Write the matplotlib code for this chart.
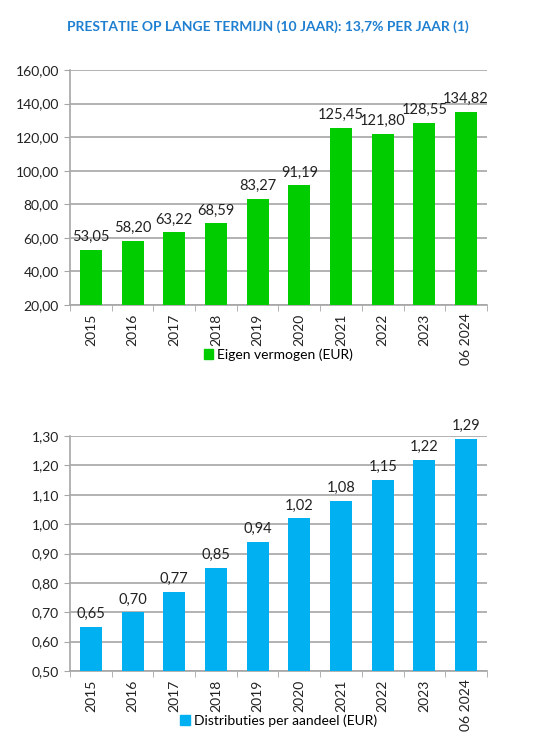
import numpy as np
import matplotlib.pyplot as plt
from matplotlib.patches import Patch

plt.rcParams['font.family'] = ['Lato', 'DejaVu Sans']

years = ['2015', '2016', '2017', '2018', '2019', '2020', '2021', '2022', '2023', '06 2024']
equity = [53.05, 58.20, 63.22, 68.59, 83.27, 91.19, 125.45, 121.80, 128.55, 134.82]
distrib = [0.65, 0.70, 0.77, 0.85, 0.94, 1.02, 1.08, 1.15, 1.22, 1.29]

green = '#00cc00'
blue = '#00b0f0'
grid_col = '#a6a6a6'


def fmt(v, d=2):
    return f'{v:.{d}f}'.replace('.', ',')


def draw(ax, vals, color, ymin, ymax, step, label, offset):
    x = np.arange(len(vals))
    ax.bar(x, [v - ymin for v in vals], bottom=ymin, width=0.53, color=color, zorder=3)
    for xi, v in zip(x, vals):
        ax.text(xi, v + offset, fmt(v), ha='center', va='bottom', fontsize=10.5, color='#222222')
    ax.set_xlim(-0.5, len(vals) - 0.5)
    ax.set_ylim(ymin, ymax)
    ticks = np.arange(ymin, ymax + step / 2, step)
    ax.set_yticks(ticks)
    ax.set_yticklabels([fmt(t) for t in ticks], fontsize=10, color='#222222')
    ax.yaxis.grid(True, color=grid_col, linewidth=1.2, zorder=0)
    ax.set_xticks(x)
    ax.set_xticklabels(years, rotation=90, fontsize=10, color='#222222')
    ax.tick_params(axis='x', length=0, pad=6)
    ax.set_xticks(np.arange(-0.5, len(vals)), minor=True)
    ax.tick_params(axis='x', which='minor', length=4, color=grid_col)
    ax.tick_params(axis='y', length=4, color=grid_col, pad=4)
    for s in ['top', 'right']:
        ax.spines[s].set_visible(False)
    ax.spines['left'].set_color(grid_col)
    ax.spines['bottom'].set_color(grid_col)
    ax.spines['left'].set_linewidth(1.2)
    ax.spines['bottom'].set_linewidth(1.2)
    ax.legend(handles=[Patch(color=color, label=label)], loc='upper center',
              bbox_to_anchor=(0.5, -0.13), frameon=False, fontsize=10,
              handlelength=0.7, handleheight=0.7, handletextpad=0.3)


fig = plt.figure(figsize=(5.53, 7.51), dpi=100)
fig.text(0.485, 0.965, 'PRESTATIE OP LANGE TERMIJN (10 JAAR): 13,7% PER JAAR (1)',
         ha='center', va='center', fontsize=10, fontweight='bold', color='#1f7fd0')

ax1 = fig.add_axes([0.1266, 0.5939, 0.754, 0.3129])
draw(ax1, equity, green, 20, 160, 20, 'Eigen vermogen (EUR)', 3.5)

ax2 = fig.add_axes([0.1266, 0.1065, 0.754, 0.3129])
draw(ax2, distrib, blue, 0.5, 1.3, 0.1, 'Distributies per aandeel (EUR)', 0.02)

fig.savefig('out.png', dpi=100)
